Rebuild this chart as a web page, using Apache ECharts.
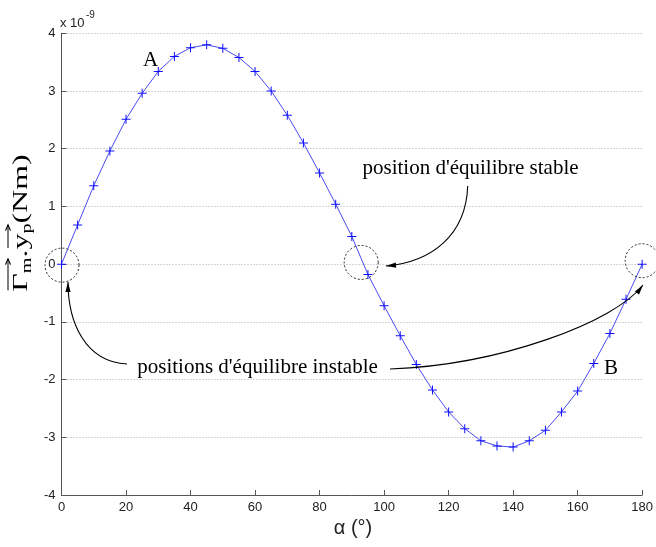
<!DOCTYPE html>
<html>
<head>
<meta charset="utf-8">
<script src="https://cdn.jsdelivr.net/npm/echarts@6/dist/echarts.min.js"></script>
<style>
html,body{margin:0;padding:0;background:#fff;}
#chart{width:656px;height:547px;}
</style>
</head>
<body>
<div id="chart"></div>
<script>
// angle (degrees)
const alphaDeg = [0,5,10,15,20,25,30,35,40,45,50,55,60,65,70,75,80,85,90,95,100,105,110,115,120,125,130,135,140,145,150,155,160,165,170,175,180];
// torque (x 1e-9 Nm)
const torque = [0,0.68,1.36,1.96,2.51,2.96,3.34,3.60,3.75,3.80,3.74,3.58,3.34,3.00,2.58,2.10,1.58,1.04,0.48,-0.18,-0.72,-1.24,-1.74,-2.18,-2.56,-2.85,-3.06,-3.15,-3.17,-3.06,-2.88,-2.56,-2.20,-1.72,-1.20,-0.61,0];
const xTicks = [0,20,40,60,80,100,120,140,160,180];
const yTicks = [-4,-3,-2,-1,0,1,2,3,4];

const chart = echarts.init(document.getElementById('chart'), null, {renderer:'canvas'});
const sans = 'Liberation Sans';
const serif = 'Liberation Serif';
const G = {left:61.5, top:33.3, right:9.5, bottom:52};

const option = {
  animation:false,
  backgroundColor:'#ffffff',
  grid:{left:G.left, top:G.top, right:G.right, bottom:G.bottom, containLabel:false},
  xAxis:{
    type:'value', min:xTicks[0], max:xTicks[xTicks.length-1], interval:20,
    axisLine:{onZero:false, lineStyle:{color:'#555', width:1}},
    axisTick:{inside:true, length:5, lineStyle:{color:'#555'}},
    axisLabel:{margin:6, color:'#222', fontFamily:sans, fontSize:13, showMinLabel:true, showMaxLabel:true},
    splitLine:{show:false}
  },
  yAxis:{
    type:'value', min:yTicks[0], max:yTicks[yTicks.length-1], interval:1,
    axisLine:{show:true, onZero:false, lineStyle:{color:'#555', width:1}},
    axisTick:{show:true, inside:true, length:5, lineStyle:{color:'#555'}},
    axisLabel:{margin:6, color:'#222', fontFamily:sans, fontSize:13},
    splitLine:{show:true, lineStyle:{color:'#aaa', type:[1,2], width:1}}
  },
  series:[{
    type:'line',
    data: alphaDeg.map((a,i)=>[a, torque[i]]),
    symbol:'path://M4,0h1v4h4v1h-4v4h-1v-4h-4v-1h4z',
    symbolSize:9,
    showAllSymbol:true,
    lineStyle:{color:'#4a4af0', width:1},
    itemStyle:{color:'#1010ff'},
    z:3
  }]
};
chart.setOption(option);

function P(x,y){ return chart.convertToPixel({gridIndex:0},[x,y]); }

function arrowHead(tip, from, len, half){
  const dx = tip[0]-from[0], dy = tip[1]-from[1];
  const d = Math.hypot(dx,dy); const ux=dx/d, uy=dy/d;
  const bx = tip[0]-ux*len, by = tip[1]-uy*len;
  return {type:'polygon', shape:{points:[[tip[0],tip[1]],[bx-uy*half, by+ux*half],[bx+uy*half, by-ux*half]]}, style:{fill:'#000'}, z:10};
}
function curve(p0,p1,p2,p3){
  return [{type:'bezierCurve', shape:{x1:p0[0],y1:p0[1],cpx1:p1[0],cpy1:p1[1],cpx2:p2[0],cpy2:p2[1],x2:p3[0],y2:p3[1]}, style:{stroke:'#000', lineWidth:1.1, fill:null}, z:10},
          arrowHead(p3,p2,10,2.6)];
}
function circ(c){
  return {type:'circle', shape:{cx:c[0], cy:c[1], r:17}, style:{stroke:'#222', fill:null, lineWidth:1, lineDash:[2,2]}, z:10};
}

const c0 = P(0,0), c1 = P(92.9,0.03), c2 = P(180,0.06);
c0[0]+=0.5; c0[1]+=1;

const els = [];
els.push(circ(c0), circ(c1), circ(c2));
els.push(...curve([467.7,186],[466,235],[432,262],[386,266]));
els.push(...curve([127,364],[85,362],[68,322],[68,282]));
els.push(...curve([390,369],[500,365],[615,322],[643,285]));

els.push({type:'text', x:150.7, y:60, style:{text:'A', font:'21px "'+serif+'"', fill:'#000', align:'center', verticalAlign:'middle'}, z:10});
els.push({type:'text', x:611, y:368, style:{text:'B', font:'21px "'+serif+'"', fill:'#000', align:'center', verticalAlign:'middle'}, z:10});
els.push({type:'text', x:470.5, y:168, style:{text:"position d'équilibre stable", font:'21px "'+serif+'"', fill:'#000', align:'center', verticalAlign:'middle'}, z:10});
els.push({type:'text', x:257.5, y:367, style:{text:"positions d'équilibre instable", font:'21px "'+serif+'"', fill:'#000', align:'center', verticalAlign:'middle'}, z:10});

// exponent label
els.push({type:'text', x:60, y:23, style:{text:'x 10', font:'13px "'+sans+'"', fill:'#222', align:'left', verticalAlign:'middle'}, z:10});
els.push({type:'text', x:86, y:15, style:{text:'-9', font:'10px "'+sans+'"', fill:'#222', align:'left', verticalAlign:'middle'}, z:10});

// x axis title
els.push({type:'text', x:353, y:528, style:{text:'α (°)', font:'20px "'+sans+'"', fill:'#222', align:'center', verticalAlign:'middle'}, z:10});

// y axis title (rotated, stretched group)
const ctx = document.createElement('canvas').getContext('2d');
function w(t,f){ ctx.font=f; return ctx.measureText(t).width; }
const big = '22px "'+serif+'"', small = '14px "'+serif+'"';
const parts = [
  {t:'Γ', f:big, dy:0, arrow:true},
  {t:'m', f:small, dy:6},
  {t:'.', f:big, dy:0},
  {t:'y', f:big, dy:0, arrow:true},
  {t:'p', f:small, dy:6},
  {t:'(Nm)', f:big, dy:0}
];
let cx = 0; const kids = [];
parts.forEach(p=>{
  const ww = w(p.t,p.f);
  kids.push({type:'text', x:cx, y:p.dy, style:{text:p.t, font:p.f, fill:'#000', align:'left', verticalAlign:'middle'}});
  if(p.arrow){
    const ax0 = cx+1, ax1 = cx + (p.t==='Γ' ? ww+w('m',small) : ww+w('p',small)) - 1;
    const ay = -13;
    kids.push({type:'line', shape:{x1:ax0,y1:ay,x2:ax1,y2:ay}, style:{stroke:'#000', lineWidth:1}});
    kids.push({type:'polyline', shape:{points:[[ax1-4,ay-2.5],[ax1,ay],[ax1-4,ay+2.5]]}, style:{stroke:'#000', lineWidth:1, fill:null}});
  }
  cx += ww;
});
kids.forEach(k=>{ if(k.type==='text') k.x -= cx/2; else if(k.type==='line'){k.shape.x1-=cx/2;k.shape.x2-=cx/2;} else {k.shape.points = k.shape.points.map(q=>[q[0]-cx/2,q[1]]);} });
els.push({type:'group', x:21, y:223, rotation:Math.PI/2, scaleX:1.45, scaleY:1, children:kids, z:10});

chart.setOption({graphic:{elements:els}});
</script>
</body>
</html>
